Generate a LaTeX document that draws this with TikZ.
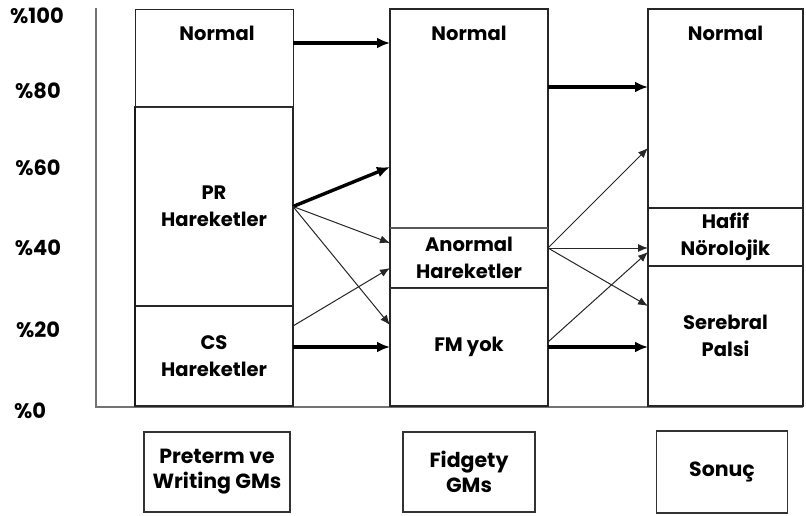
\documentclass[tikz,border=0pt]{standalone}
\usepackage{fontspec}
\setmainfont{Poppins}
\usetikzlibrary{calc,arrows.meta}
\begin{document}
\begin{tikzpicture}[x=1pt,y=-1pt,
  seg/.style={draw=black!85,line width=1.4pt,inner sep=0pt,outer sep=0pt,align=center,font=\fontsize{19.5}{27}\selectfont\bfseries},
  lbl/.style={inner sep=0pt,font=\fontsize{19.5}{27}\selectfont\bfseries},
  pct/.style={inner sep=0pt,font=\fontsize{21}{22}\selectfont\bfseries},
  axis/.style={draw=black!55,line width=2pt},
  thk/.style={line width=3.4pt,-{Latex[length=13pt,width=11pt]}},
  thn/.style={line width=1pt,black!85,-{Latex[length=10pt,width=8pt]}},
  capbox/.style={draw=black!80,line width=1.3pt,inner sep=0pt,align=center,font=\fontsize{20.5}{25}\selectfont\bfseries}]
\useasboundingbox (0,0) rectangle (806,515);
\fill[white] (0,0) rectangle (806,515);
% axis
\coordinate (ytop) at (96,8);
\coordinate (orig) at (96,407);
\coordinate (xend) at (803,407);
\draw[axis] (ytop) -- (orig) -- (xend);
% percent labels
\node[pct] (p100) at (37,16) {\%100};
\node[pct] (p80) at (38,91) {\%80};
\node[pct] (p60) at (38,168) {\%60};
\node[pct] (p40) at (38,248) {\%40};
\node[pct] (p20) at (38,330) {\%20};
\node[pct] (p0) at (30,411) {\%0};
% column 1
\node[seg,minimum width=158pt,minimum height=98pt,line width=1pt] (n1) at (214,58) {};
\node[seg,minimum width=158pt,minimum height=199pt] (pr) at (214,206.5) {PR\\Hareketler};
\node[seg,minimum width=158pt,minimum height=100pt] (cs) at (214,356) {CS\\Hareketler};
\draw[line width=1pt,black!80] (n1.south west) -- (n1.south east);
\draw[line width=2.4pt,black!90] (pr.north west) -- (cs.south west);
\node[lbl] (t1) at (217,33) {Normal};
% column 2
\node[seg,minimum width=158pt,minimum height=219pt] (n2) at (469,118.5) {};
\node[seg,minimum width=158pt,minimum height=60pt] (an) at (469,258) {Anormal\\Hareketler};
\node[seg,minimum width=158pt,minimum height=118pt] (fm) at (469,347) {FM yok};
\draw[line width=2.6pt,black!65] (n2.south west) -- (n2.south east);
\draw[line width=1pt,black!80] (an.south west) -- (an.south east);
\node[lbl] (t2) at (469,33) {Normal};
% column 3
\node[seg,minimum width=155pt,minimum height=199pt] (n3) at (725.5,108.5) {};
\node[seg,minimum width=155pt,minimum height=58pt] (hf) at (725.5,237) {Hafif\\Nörolojik};
\node[seg,minimum width=155pt,minimum height=140pt] (sp) at (725.5,336) {Serebral\\Palsi};
\draw[line width=2.2pt,black!85] (n3.south west) -- (n3.south east);
\draw[line width=2.6pt,black!85] (n3.north east) -- (sp.south east);
\node[lbl] (t3) at (725.5,33) {Normal};
% arrows column 1 -> 2
\coordinate (s1) at ($(n1.east)+(0,-15)$);
\draw[thk] (s1) -- (s1 -| n2.west);
\draw[thk] (pr.east) -- ($(n2.west)+(0,48.5)$);
\draw[thn] (pr.east) -- ($(an.west)+(0,-15)$);
\draw[thn] (pr.east) -- ($(fm.west)+(0,-22)$);
\draw[thn] ($(cs.east)+(0,-30)$) -- ($(an.west)+(0,10)$);
\coordinate (s6) at ($(cs.east)+(0,-9)$);
\draw[thk] (s6) -- (s6 -| fm.west);
% arrows column 2 -> 3
\coordinate (s7) at ($(n2.east)+(0,-31.5)$);
\draw[thk] (s7) -- (s7 -| n3.west);
\coordinate (s8) at ($(an.east)+(0,-10)$);
\draw[thn] (s8) -- ($(n3.west)+(0,39.5)$);
\draw[thn] (s8) -- (s8 -| hf.west);
\draw[thn] (s8) -- ($(sp.west)+(0,-30)$);
\draw[thn] ($(fm.east)+(0,-5)$) -- ($(hf.west)+(0,15)$);
\draw[thk] (fm.east) -- (fm.east -| sp.west);
% caption boxes
\node[capbox,minimum width=146pt,minimum height=80pt] (b1) at (217,472) {Preterm ve\\Writing GMs};
\node[capbox,minimum width=132pt,minimum height=80pt] (b2) at (469,472) {Fidgety\\GMs};
\node[capbox,minimum width=131pt,minimum height=82pt] (b3) at (722,472) {Sonuç};
\end{tikzpicture}
\end{document}
